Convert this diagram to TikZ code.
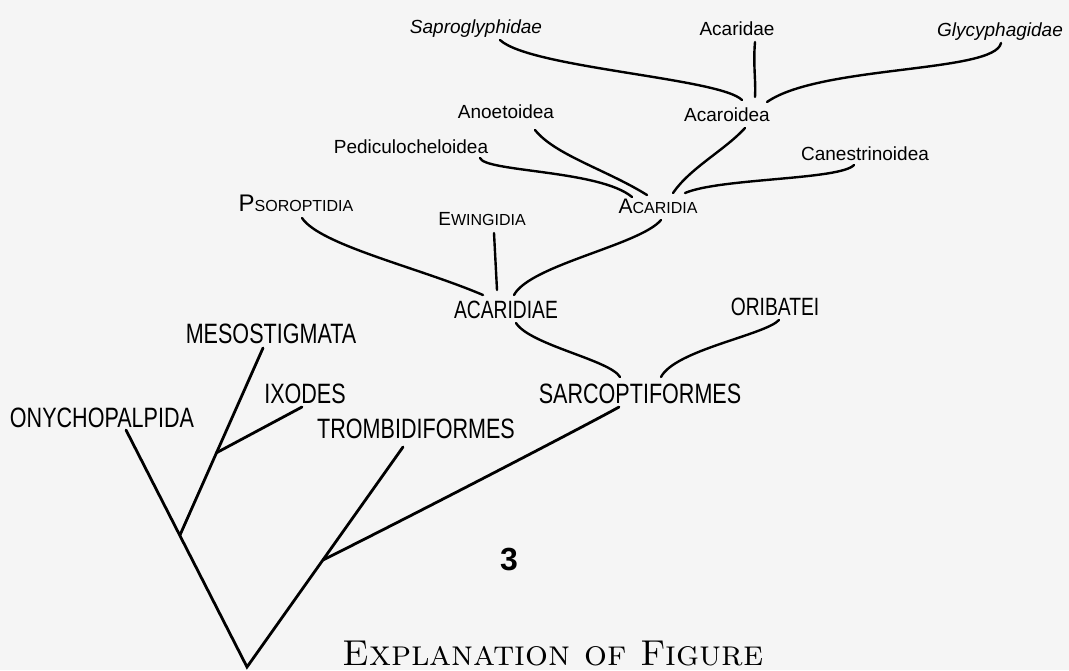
\documentclass[tikz,border=0pt]{standalone}
\usepackage{fontspec}
\usetikzlibrary{calc}
\newfontfamily\hand[FakeStretch=0.77]{Liberation Sans}
\newfontfamily\lettering{Liberation Sans}
\definecolor{paper}{RGB}{245,245,245}
\newcommand{\smc}[3]{{\fontsize{#3}{#3}\selectfont #1}{\fontsize{8}{9}\selectfont #2}}
\tikzset{
  taxonbig/.style={font=\hand\fontsize{14}{16}\selectfont, inner sep=0pt, anchor=base},
  taxonmid/.style={font=\hand\fontsize{12.5}{14}\selectfont, inner sep=0pt, anchor=base},
  taxonsmall/.style={font=\lettering\fontsize{9.5}{11}\selectfont, inner sep=0pt, anchor=base},
  taxonsc/.style={font=\lettering, inner sep=0pt, anchor=base},
  branch/.style={line width=1.4pt, line cap=round},
  twig/.style={line width=1.2pt, line cap=round}
}
\begin{document}
\begin{tikzpicture}[x=0.5pt, y=-0.5pt]
    \useasboundingbox (0,0) rectangle (1069,670);
    \fill [paper] (0,0) rectangle (1069,670);
    % families
    \node [taxonsmall, font=\lettering\itshape\fontsize{9.5}{11}\selectfont] (sapro) at (476,33) {Saproglyphidae};
    \node [taxonsmall] (acaridae) at (737,35) {Acaridae};
    \node [taxonsmall, font=\lettering\itshape\fontsize{9.5}{11}\selectfont] (glyco) at (1000,36) {Glycyphagidae};
    % superfamilies
    \node [taxonsmall] (anoet) at (506,118) {Anoetoidea};
    \node [taxonsmall] (acaroid) at (727,121) {Acaroidea};
    \node [taxonsmall] (pedic) at (411,153) {Pediculocheloidea};
    \node [taxonsmall] (canest) at (865,160) {Canestrinoidea};
    % cohorts
    \node [taxonsc] (acaridia) at (658,213) {\smc{A}{CARIDIA}{10.5}};
    \node [taxonsc] (psor) at (296,211) {\smc{P}{SOROPTIDIA}{12}};
    \node [taxonsc] (ewing) at (482,225) {\smc{E}{WINGIDIA}{9.5}};
    % orders and suborders
    \node [taxonmid] (acaridiae) at (506,318) {ACARIDIAE};
    \node [taxonmid] (oribatei) at (775,315) {ORIBATEI};
    \node [taxonbig] (meso) at (271,343) {MESOSTIGMATA};
    \node [taxonbig] (ixodes) at (305,403) {IXODES};
    \node [taxonbig] (sarco) at (640,403) {SARCOPTIFORMES};
    \node [taxonbig] (onycho) at (102,427) {ONYCHOPALPIDA};
    \node [taxonbig] (trombi) at (416,438) {TROMBIDIFORMES};
    \node [anchor=base, inner sep=0pt, font=\lettering\bfseries\fontsize{16}{18}\selectfont] (fignum) at (509,570) {3};
    \node [anchor=base, inner sep=0pt, font=\fontsize{18}{22}\selectfont] (caption) at (553,665) {\textsc{Explanation of Figure}};
    % junctions of the tree
    \coordinate (root) at (247,667);
    \coordinate (jmeso) at (180,535);
    \coordinate (jixo) at (216,453);
    \coordinate (jtrom) at (323,560);
    % upper branches
    \draw [twig] ($(sapro.base)+(24,7)$) .. controls +(30,28) and +(-22,-22) .. ($(acaroid.base)+(15,-21)$);
    \draw [twig] ($(acaridae.base)+(18,7)$) .. controls +(-2,23) and +(1,-17) .. ($(acaroid.base)+(28,-24)$);
    \draw [twig] ($(glyco.base)+(1,7)$) .. controls +(-6,30) and +(53,-37) .. ($(acaroid.base)+(40,-19)$);
    \draw [twig] ($(anoet.base)+(29,12)$) .. controls +(20,25) and +(-40,-25) .. ($(acaridia.base)+(-11,-18)$);
    \draw [twig] ($(pedic.base)+(69,5)$) .. controls +(5,14) and +(-32,-27) .. ($(acaridia.base)+(-26,-16)$);
    \draw [twig] ($(acaroid.base)+(18,7)$) .. controls +(-20,22) and +(17,-25) .. ($(acaridia.base)+(15,-20)$);
    \draw [twig] ($(canest.base)+(-11,5)$) .. controls +(-14,15) and +(35,-15) .. ($(acaridia.base)+(27,-20)$);
    \draw [twig] ($(acaridia.base)+(3,7)$) .. controls +(-21,25) and +(16,-30) .. ($(acaridiae.base)+(8,-23)$);
    \draw [twig] ($(psor.base)+(6,7)$) .. controls +(18,27) and +(-63,-27) .. ($(acaridiae.base)+(-23,-23)$);
    \draw [twig] ($(ewing.base)+(12,8)$) -- ($(acaridiae.base)+(-9,-28)$);
    \draw [twig] ($(acaridiae.base)+(10,5)$) .. controls +(14,22) and +(-10,-17) .. ($(sarco.base)+(-20,-26)$);
    \draw [twig] ($(oribatei.base)+(4,5)$) .. controls +(-14,15) and +(14,-27) .. ($(sarco.base)+(21,-26)$);
    % lower branches
    \draw [branch] ($(sarco.base)+(-21,4)$) .. controls +(-19,11) and +(106,-53) .. (jtrom);
    \draw [branch] ($(onycho.base)+(24,3)$) -- (root) -- ($(trombi.base)+(-13,9)$);
    \draw [branch] (jmeso) -- ($(meso.base)+(-8,5)$);
    \draw [branch] (jixo) -- ($(ixodes.base)+(-3,4)$);
\end{tikzpicture}
\end{document}
